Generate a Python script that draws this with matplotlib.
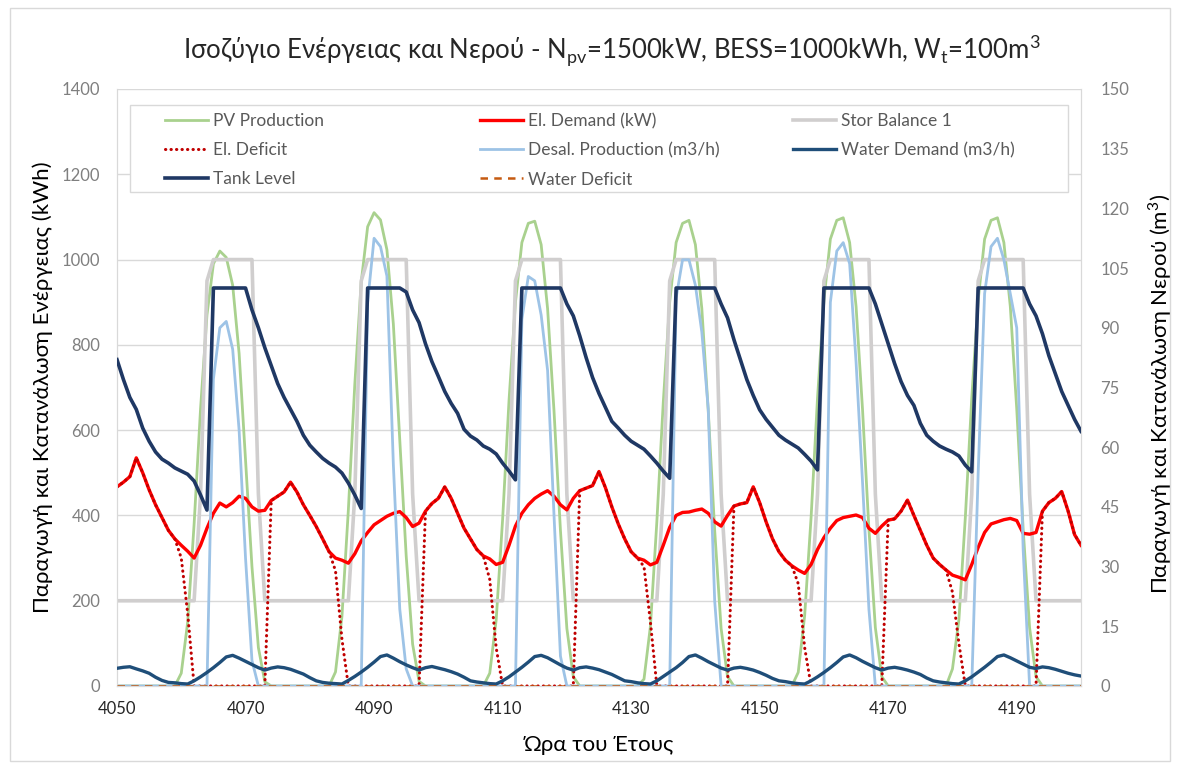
import numpy as np
import matplotlib
matplotlib.use('Agg')
import matplotlib.pyplot as plt
from matplotlib.patches import Rectangle
from matplotlib.legend import Legend

plt.rcParams['font.family'] = ['Lato', 'Noto Sans', 'DejaVu Sans']
plt.rcParams['mathtext.fontset'] = 'custom'
plt.rcParams['mathtext.rm'] = 'Lato'

# hour of the year, 4050 ... 4200
hours = np.arange(4050, 4201)

# energy side (kW / kWh), one row per day (first row = 18:00-23:00 of previous day)
pv = [0, 0, 0, 0, 0, 0,
      0, 0, 0, 0, 30, 150, 380, 650, 870, 990, 1020, 1005, 940, 780, 530, 280, 90, 10, 0, 0, 0, 0, 0, 0,
      0, 0, 0, 0, 33, 163, 413, 707, 947, 1077, 1110, 1093, 1023, 849, 577, 305, 98, 11, 0, 0, 0, 0, 0, 0,
      0, 0, 0, 0, 30, 155, 390, 670, 900, 1040, 1085, 1090, 1035, 885, 645, 365, 135, 22, 0, 0, 0, 0, 0, 0,
      0, 0, 0, 0, 16, 140, 385, 665, 900, 1040, 1085, 1092, 1035, 885, 645, 365, 135, 22, 0, 0, 0, 0, 0, 0,
      0, 0, 0, 0, 32, 165, 395, 675, 905, 1048, 1092, 1098, 1040, 890, 650, 368, 137, 22, 0, 0, 0, 0, 0, 0,
      0, 0, 0, 0, 40, 155, 395, 675, 905, 1048, 1092, 1098, 1040, 890, 650, 368, 137, 22, 0, 0, 0, 0, 0, 0,
      0]

el_demand = [467, 478, 491, 535, 500, 460,
             425, 395, 365, 345, 330, 316, 300, 330, 370, 405, 429, 420, 430, 445, 440, 420, 410, 412, 435, 445, 455, 478, 455, 425,
             400, 374, 345, 315, 300, 295, 288, 310, 340, 360, 378, 388, 398, 405, 409, 395, 374, 382, 410, 428, 440, 467, 440, 405,
             370, 345, 320, 305, 298, 285, 290, 330, 375, 405, 425, 440, 450, 458, 445, 425, 413, 440, 458, 464, 470, 503, 465, 420,
             380, 345, 315, 300, 295, 284, 290, 330, 372, 400, 407, 408, 412, 415, 405, 385, 375, 400, 422, 427, 430, 467, 430, 385,
             345, 315, 295, 282, 272, 264, 285, 320, 348, 370, 388, 395, 398, 401, 395, 370, 358, 375, 389, 392, 410, 436, 400, 365,
             330, 300, 285, 272, 260, 255, 249, 285, 325, 360, 380, 385, 390, 393, 388, 358, 356, 360, 410, 430, 440, 456, 410, 355,
             330]

stor_balance = [200, 200, 200, 200, 200, 200,
                200, 200, 200, 200, 200, 200, 200, 450, 950, 1000, 1000, 1000, 1000, 1000, 1000, 1000, 450, 200, 200, 200, 200, 200, 200, 200,
                200, 200, 200, 200, 200, 200, 200, 450, 950, 1000, 1000, 1000, 1000, 1000, 1000, 1000, 450, 200, 200, 200, 200, 200, 200, 200,
                200, 200, 200, 200, 200, 200, 200, 450, 950, 1000, 1000, 1000, 1000, 1000, 1000, 1000, 450, 200, 200, 200, 200, 200, 200, 200,
                200, 200, 200, 200, 200, 200, 200, 450, 950, 1000, 1000, 1000, 1000, 1000, 1000, 1000, 450, 200, 200, 200, 200, 200, 200, 200,
                200, 200, 200, 200, 200, 200, 200, 450, 950, 1000, 1000, 1000, 1000, 1000, 1000, 1000, 450, 200, 200, 200, 200, 200, 200, 200,
                200, 200, 200, 200, 200, 200, 200, 450, 950, 1000, 1000, 1000, 1000, 1000, 1000, 1000, 450, 200, 200, 200, 200, 200, 200, 200,
                200]

el_deficit = [467, 478, 491, 535, 500, 460,
              425, 395, 365, 345, 300, 170, 0, 0, 0, 0, 0, 0, 0, 0, 0, 0, 0, 0, 435, 445, 455, 478, 455, 425,
              400, 374, 345, 315, 270, 110, 0, 0, 0, 0, 0, 0, 0, 0, 0, 0, 0, 0, 410, 428, 440, 467, 440, 405,
              370, 345, 320, 305, 250, 90, 0, 0, 0, 0, 0, 0, 0, 0, 0, 0, 0, 0, 458, 464, 470, 503, 465, 420,
              380, 345, 315, 300, 280, 150, 0, 0, 0, 0, 0, 0, 0, 0, 0, 0, 0, 0, 422, 427, 430, 467, 430, 385,
              345, 315, 295, 282, 240, 90, 0, 0, 0, 0, 0, 0, 0, 0, 0, 0, 0, 0, 389, 392, 410, 436, 400, 365,
              330, 300, 285, 272, 220, 100, 0, 0, 0, 0, 0, 0, 0, 0, 0, 0, 0, 0, 410, 430, 440, 456, 410, 355,
              330]

# water side (m3/h, m3)
desal = [0, 0, 0, 0, 0, 0,
         0, 0, 0, 0, 0, 0, 0, 0, 0, 77.1, 90.0, 91.6, 84.6, 64.3, 32.1, 6.4, 0, 0, 0, 0, 0, 0, 0, 0,
         0, 0, 0, 0, 0, 0, 0, 0, 0, 96.4, 112.5, 110.4, 103.0, 55.7, 19.3, 4.3, 0, 0, 0, 0, 0, 0, 0, 0,
         0, 0, 0, 0, 0, 0, 0, 0, 0, 92.1, 102.9, 101.8, 93.2, 79.3, 42.9, 7.5, 0, 0, 0, 0, 0, 0, 0, 0,
         0, 0, 0, 0, 0, 0, 0, 0, 0, 97.5, 107.1, 107.1, 100.7, 88.9, 69.6, 21.4, 0, 0, 0, 0, 0, 0, 0, 0,
         0, 0, 0, 0, 0, 0, 0, 0, 0, 96.4, 109.3, 111.4, 106.1, 81.4, 51.4, 19.3, 0, 0, 0, 0, 0, 0, 0, 0,
         0, 0, 0, 0, 0, 0, 0, 0, 53.6, 98.6, 110.4, 112.5, 107.1, 98.6, 90.0, 34.3, 0, 0, 0, 0, 0, 0, 0, 0,
         0]

water_demand = [4.45, 4.7, 4.84, 4.3, 3.8, 3.2,
                2.2, 1.4, 0.9, 0.8, 0.6, 0.5, 1.3, 2.3, 3.4, 4.6, 5.9, 7.3, 7.7, 7.0, 6.2, 5.4, 4.6, 4.0, 4.5, 4.8, 4.6, 4.2, 3.6, 3.0,
                2.1, 1.3, 0.9, 0.7, 0.6, 0.5, 1.4, 2.4, 3.5, 4.7, 6.0, 7.4, 7.8, 7.0, 6.1, 5.3, 4.6, 4.0, 4.6, 4.9, 4.5, 4.1, 3.6, 3.0,
                2.2, 1.3, 1.0, 0.8, 0.6, 0.5, 1.3, 2.3, 3.5, 4.7, 6.0, 7.4, 7.7, 7.1, 6.2, 5.3, 4.5, 4.0, 4.6, 4.8, 4.5, 4.1, 3.5, 2.9,
                2.1, 1.3, 1.1, 0.8, 0.6, 0.5, 1.3, 2.4, 3.5, 4.6, 5.9, 7.4, 7.8, 7.0, 6.1, 5.3, 4.5, 4.0, 4.5, 4.7, 4.4, 4.0, 3.4, 2.7,
                1.9, 1.3, 1.1, 0.8, 0.6, 0.5, 1.3, 2.3, 3.4, 4.6, 5.9, 7.3, 7.8, 7.1, 6.2, 5.4, 4.6, 4.0, 4.5, 4.7, 4.4, 4.0, 3.5, 2.9,
                2.0, 1.3, 1.0, 0.8, 0.6, 0.5, 1.3, 2.3, 3.5, 4.7, 6.0, 7.4, 7.8, 7.1, 6.3, 5.5, 4.7, 4.4, 4.8, 4.6, 4.2, 3.7, 3.2, 2.8,
                2.5]

tank_level = [82, 77, 72.5, 69.5, 64.8, 61.5,
              58.8, 57, 56, 54.8, 54, 53.2, 51.5, 48, 44.2, 100, 100, 100, 100, 100, 100, 94.5, 90, 85, 80.5, 76, 72.5, 69.5, 66.5, 63,
              60.5, 58.8, 57.2, 56, 55, 53.5, 51, 48, 44.6, 100, 100, 100, 100, 100, 100, 99, 94.5, 91.3, 86, 81.5, 77.8, 74, 71, 68.5,
              64.5, 62.8, 61.8, 60.3, 59.5, 58.3, 56, 54, 51.8, 100, 100, 100, 100, 100, 100, 100, 96, 93, 88, 82.5, 77.5, 73.5, 70, 66.5,
              64.8, 63, 61.5, 60.5, 59.5, 57.8, 56, 54, 52.2, 100, 100, 100, 100, 100, 100, 100, 96, 92.5, 87, 82, 77, 73, 69.4, 67,
              65, 63, 61.8, 60.8, 59.8, 58.2, 56.5, 54.3, 100, 100, 100, 100, 100, 100, 100, 100, 96, 91, 86, 81, 76.5, 73, 70.5, 66,
              63, 61.5, 60.3, 59.5, 58.8, 57.8, 55.5, 53.8, 100, 100, 100, 100, 100, 100, 100, 100, 96, 93, 88.5, 83, 78.5, 74, 70.5, 67,
              64]

water_deficit = [0] * 151

W, H = 1177, 769
fig = plt.figure(figsize=(W / 100, H / 100), dpi=100)
fig.patches.append(Rectangle((10 / W, 8 / H), 1160 / W, 753 / H, transform=fig.transFigure,
                             fill=False, edgecolor='#d9d9d9', lw=1))

ax = fig.add_axes([117 / W, 1 - 686 / H, 964 / W, 597 / H])
ax2 = ax.twinx()

l_pv, = ax.plot(hours, pv, color='#a9d18e', lw=2.0, label='PV Production', zorder=2)
l_stor, = ax.plot(hours, stor_balance, color='#d0cece', lw=2.6, label='Stor Balance 1', zorder=2)
l_dem, = ax.plot(hours, el_demand, color='#ff0000', lw=2.4, label='El. Demand (kW)', zorder=3)
l_def, = ax.plot(hours, el_deficit, color='#c00000', lw=2.2, ls=(0, (0.1, 1.7)),
                 dash_capstyle='round', label='El. Deficit', zorder=4)

l_des, = ax2.plot(hours, desal, color='#9dc3e6', lw=2.0, label='Desal. Production (m3/h)', zorder=2)
l_wd, = ax2.plot(hours, water_demand, color='#1f4e79', lw=2.4, label='Water Demand (m3/h)', zorder=3)
l_tank, = ax2.plot(hours, tank_level, color='#1f3864', lw=2.6, label='Tank Level', zorder=3)
l_wdef, = ax2.plot(hours, water_deficit, color='#c55a11', lw=1.8, ls=(0, (3, 2.5)),
                   label='Water Deficit', zorder=4)

ax.set_xlim(4050, 4200)
ax.set_ylim(0, 1400)
ax2.set_ylim(0, 150)
ax.set_xticks(np.arange(4050, 4191, 20))
ax.set_yticks(np.arange(0, 1401, 200))
ax2.set_yticks(np.arange(0, 151, 15))

ax.yaxis.grid(True, color='#d9d9d9', lw=1)
ax.set_axisbelow(True)
for a in (ax, ax2):
    a.spines['top'].set_visible(False)
    for s in ('left', 'right', 'bottom'):
        a.spines[s].set_color('#d9d9d9')
ax.tick_params(axis='x', length=0, pad=11, labelsize=12, labelcolor='#262626')
ax.tick_params(axis='y', length=0, pad=12, labelsize=12, labelcolor='#7f7f7f')
ax2.tick_params(axis='y', length=0, pad=14, labelsize=12, labelcolor='#7f7f7f')

ax.set_ylabel('Παραγωγή και Κατανάλωση Ενέργειας (kWh)', fontsize=16, color='black')
ax.yaxis.set_label_coords(-0.066, 0.5)
ax2.set_ylabel('Παραγωγή και Κατανάλωση Νερού (m$^3$)', fontsize=16, color='black')
ax2.yaxis.set_label_coords(1.068, 0.49)
ax.set_xlabel('Ώρα του Έτους', fontsize=16, color='black', labelpad=13)

fig.text(612 / W, 1 - 50 / H,
         'Ισοζύγιο Ενέργειας και Νερού - N$_{\\mathrm{pv}}$=1500kW, BESS=1000kWh, W$_{\\mathrm{t}}$=100m$^{\\mathrm{3}}$',
         ha='center', va='center', fontsize=18.5, color='#262626')

# legend: framed box with three equal-width columns
ax2.add_patch(Rectangle((0.0135, 0.8275), 0.973, 0.1455, transform=ax2.transAxes,
                        facecolor='white', edgecolor='#d9d9d9', lw=1, zorder=5))
columns = [[l_pv, l_def, l_tank], [l_dem, l_des, l_wdef], [l_stor, l_wd]]
col_x = [0.0498, 0.3766, 0.7012]
for handles, x in zip(columns, col_x):
    leg = Legend(ax2, handles, [h.get_label() for h in handles], loc='upper left',
                 bbox_to_anchor=(x, 0.96), frameon=False, fontsize=12.5, labelcolor='#595959',
                 handlelength=2.5, handletextpad=0.25, labelspacing=0.76, borderpad=0,
                 borderaxespad=0)
    leg.set_zorder(6)
    ax2.add_artist(leg)

fig.savefig('out.png', dpi=100)
